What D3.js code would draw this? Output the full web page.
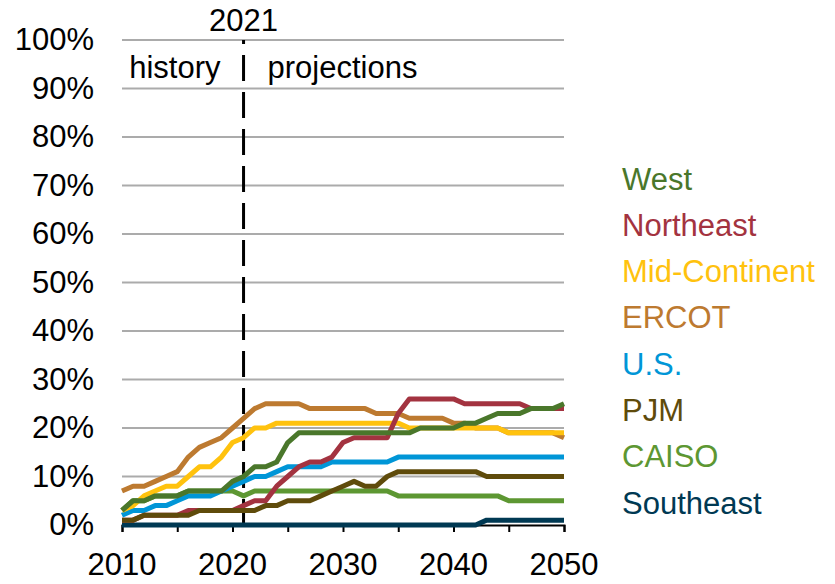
<!DOCTYPE html>
<html>
<head>
<meta charset="utf-8">
<script src="https://cdn.jsdelivr.net/npm/d3@7"></script>
<style>
  html, body { margin: 0; padding: 0; background: #fff; }
  svg { display: block; font-family: "Liberation Sans", Arial, sans-serif; }
</style>
</head>
<body>
<svg id="chart" width="835" height="584"></svg>
<script>
// ---------- data ----------
const years = d3.range(2010, 2051);
const seriesNames = ["West", "Northeast", "Mid-Continent", "ERCOT", "U.S.", "PJM", "CAISO", "Southeast"];
const seriesColors = ["#4A772B", "#A33340", "#FFC20E", "#BD7A30", "#0096D7", "#5F4B0B", "#5D9732", "#003953"];

const west =        [3,5,5,6,6,6,7,7,7,7,9,10,12,12,13,17,19,19,19,19,19,19,19,19,19,19,19,20,20,20,20,21,21,22,23,23,23,24,24,24,25];
const northeast =   [1,1,2,2,2,2,3,3,3,3,3,4,5,5,8,10,12,13,13,14,17,18,18,18,18,23,26,26,26,26,26,25,25,25,25,25,25,24,24,24,24];
const midContinent =[3,4,6,7,8,8,10,12,12,14,17,18,20,20,21,21,21,21,21,21,21,21,21,21,21,21,20,20,20,20,20,20,20,20,20,19,19,19,19,19,19];
const ercot =       [7,8,8,9,10,11,14,16,17,18,20,22,24,25,25,25,25,24,24,24,24,24,24,23,23,23,22,22,22,22,21,21,20,20,20,19,19,19,19,19,18];
const us =          [2,3,3,4,4,5,6,6,6,7,8,9,10,10,11,12,12,12,12,13,13,13,13,13,13,14,14,14,14,14,14,14,14,14,14,14,14,14,14,14,14];
const pjm =         [1,1,2,2,2,2,2,3,3,3,3,3,3,4,4,5,5,5,6,7,8,9,8,8,10,11,11,11,11,11,11,11,11,10,10,10,10,10,10,10,10];
const caiso =       [3,5,5,6,6,6,7,7,7,7,7,6,7,7,7,7,7,7,7,7,7,7,7,7,7,6,6,6,6,6,6,6,6,6,6,5,5,5,5,5,5];
const southeast =   [0,0,0,0,0,0,0,0,0,0,0,0,0,0,0,0,0,0,0,0,0,0,0,0,0,0,0,0,0,0,0,0,0,1,1,1,1,1,1,1,1];

const seriesValues = [west, northeast, midContinent, ercot, us, pjm, caiso, southeast];
// drawing order (bottom to top)
const drawOrder = ["Southeast", "CAISO", "U.S.", "ERCOT", "Mid-Continent", "Northeast", "PJM", "West"];

const yTicks = [0,10,20,30,40,50,60,70,80,90,100];
const xLabelTicks = [2010, 2020, 2030, 2040, 2050];
const xTickMarks = [2010, 2015, 2020, 2025, 2030, 2035, 2040, 2045, 2050];
const dividerYear = 2021;

// ---------- layout ----------
const svg = d3.select("#chart");
const FS = 31;
const x = d3.scaleLinear().domain([2010, 2050]).range([122, 564]);
const y = d3.scaleLinear().domain([0, 100]).range([525, 40]);

// gridlines
svg.append("g")
  .selectAll("line")
  .data(yTicks.filter(d => d > 0))
  .join("line")
  .attr("x1", x(2010)).attr("x2", x(2050))
  .attr("y1", d => y(d)).attr("y2", d => y(d))
  .attr("stroke", "#ABABAB").attr("stroke-width", 2);

// y axis labels
const yAxis = d3.axisLeft(y).tickValues(yTicks).tickFormat(d => d + "%").tickSize(0).tickPadding(0);
const gy = svg.append("g").attr("transform", `translate(${x(2010) - 28},0)`).call(yAxis);
gy.select(".domain").remove();
gy.selectAll("text").attr("font-size", FS).attr("fill", "#000")
  .attr("font-family", "Liberation Sans, Arial, sans-serif");

// x axis
const xAxis = d3.axisBottom(x).tickValues(xTickMarks).tickSize(7).tickFormat("");
const gx = svg.append("g").attr("transform", `translate(0,${y(0)})`).call(xAxis);
gx.select(".domain").attr("stroke", "#000").attr("stroke-width", 2);
gx.selectAll(".tick line").attr("stroke", "#000").attr("stroke-width", 2);

svg.append("g")
  .selectAll("text")
  .data(xLabelTicks)
  .join("text")
  .attr("x", d => x(d)).attr("y", 575)
  .attr("text-anchor", "middle")
  .attr("font-size", FS).attr("fill", "#000")
  .text(d => d);

// divider
svg.append("line")
  .attr("x1", x(dividerYear)).attr("x2", x(dividerYear))
  .attr("y1", y(100)).attr("y2", y(0))
  .attr("stroke", "#000").attr("stroke-width", 3)
  .attr("stroke-dasharray", "26,11").attr("stroke-dashoffset", 22);

svg.append("text")
  .attr("x", x(dividerYear)).attr("y", 31)
  .attr("text-anchor", "middle").attr("font-size", FS).attr("fill", "#000")
  .text(dividerYear);
svg.append("text")
  .attr("x", x(dividerYear) - 23).attr("y", 78)
  .attr("text-anchor", "end").attr("font-size", FS).attr("fill", "#000")
  .text("history");
svg.append("text")
  .attr("x", x(dividerYear) + 24).attr("y", 78)
  .attr("text-anchor", "start").attr("font-size", FS).attr("fill", "#000")
  .text("projections");

// lines
const line = d3.line()
  .x((d, i) => x(years[i]))
  .y(d => y(d))
  .curve(d3.curveLinear);

const seriesData = seriesNames.map((n, i) => ({ name: n, color: seriesColors[i], values: seriesValues[i] }));
const ordered = drawOrder.map(n => seriesData.find(s => s.name === n));

svg.append("g")
  .selectAll("path")
  .data(ordered)
  .join("path")
  .attr("d", d => line(d.values))
  .attr("fill", "none")
  .attr("stroke", d => d.color)
  .attr("stroke-width", 5)
  .attr("stroke-linejoin", "round")
  .attr("stroke-linecap", "butt");

// legend labels
svg.append("g")
  .selectAll("text")
  .data(seriesData)
  .join("text")
  .attr("x", 622)
  .attr("y", (d, i) => 189.5 + i * 46.3)
  .attr("font-size", FS)
  .attr("fill", d => d.color)
  .text(d => d.name);
</script>
</body>
</html>
